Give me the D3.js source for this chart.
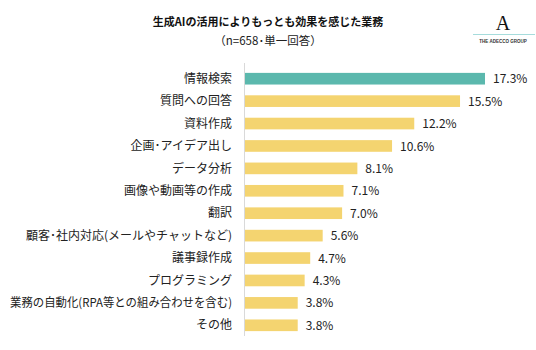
<!DOCTYPE html>
<html><head><meta charset="utf-8">
<script src="https://cdn.jsdelivr.net/npm/d3@7"></script>
<style>body{margin:0;background:#fff}svg{display:block}</style>
</head><body>
<script>
const categories = ["情報検索","質問への回答","資料作成","企画･アイデア出し","データ分析","画像や動画等の作成","翻訳","顧客･社内対応(メールやチャットなど)","議事録作成","プログラミング","業務の自動化(RPA等との組み合わせを含む)","その他"];
const values = [17.3,15.5,12.2,10.6,8.1,7.1,7.0,5.6,4.7,4.3,3.8,3.8];
const highlight = [true,false,false,false,false,false,false,false,false,false,false,false];

const W=536,H=350;
const svg=d3.select("body").append("svg").attr("width",W).attr("height",H);
const font="'Noto Sans CJK JP','Noto Sans',sans-serif";

svg.append("text").attr("x",268).attr("y",26).attr("text-anchor","middle")
 .attr("font-family",font).attr("font-weight","bold").attr("font-size",11).attr("fill","#111")
 .text("生成AIの活用によりもっとも効果を感じた業務");
svg.append("text").attr("x",268).attr("y",45).attr("text-anchor","middle")
 .attr("font-family",font).attr("font-size",11.5).attr("fill","#222")
 .text("（n=658･単一回答）");

// logo
svg.append("text").attr("x",503).attr("y",30).attr("text-anchor","middle")
 .attr("font-family","'Liberation Serif',serif").attr("font-size",20).attr("fill","#111").text("A");
svg.append("line").attr("x1",473).attr("x2",535).attr("y1",34.5).attr("y2",34.5).attr("stroke","#8fd3d3").attr("stroke-width",0.8);
svg.append("text").attr("x",503).attr("y",43).attr("text-anchor","middle")
 .attr("font-family","'Liberation Sans',sans-serif").attr("font-size",4.5).attr("font-weight","bold").attr("fill","#333").text("THE ADECCO GROUP");

const x=d3.scaleLinear().domain([0,17.3]).range([245,485]);
const y=d3.scaleBand().domain(categories).range([67.5,336.5]).paddingInner(0.48).paddingOuter(0.24);

svg.append("line").attr("x1",244.5).attr("x2",244.5).attr("y1",63).attr("y2",336).attr("stroke","#d9d9d9");

svg.selectAll("rect.bar").data(categories).join("rect").attr("class","bar")
 .attr("x",x(0)).attr("y",d=>y(d)).attr("height",y.bandwidth())
 .attr("width",(d,i)=>x(values[i])-x(0))
 .attr("fill",(d,i)=>highlight[i]?"#5bb8ad":"#f4d470");

svg.selectAll("text.cat").data(categories).join("text").attr("class","cat")
 .attr("x",232).attr("y",d=>y(d)+y.bandwidth()/2).attr("dy","0.35em").attr("text-anchor","end")
 .attr("font-family",font).attr("font-size",12).attr("fill","#222").text(d=>d)
 .each(function(){ const w=this.getComputedTextLength(); if(w>222){ d3.select(this).attr("textLength",222).attr("lengthAdjust","spacingAndGlyphs"); } });

svg.selectAll("text.val").data(categories).join("text").attr("class","val")
 .attr("x",(d,i)=>x(values[i])+8).attr("y",d=>y(d)+y.bandwidth()/2).attr("dy","0.38em")
 .attr("font-family",font).attr("font-size",12).attr("fill","#222").text((d,i)=>values[i].toFixed(1)+"%");
</script>
</body></html>
